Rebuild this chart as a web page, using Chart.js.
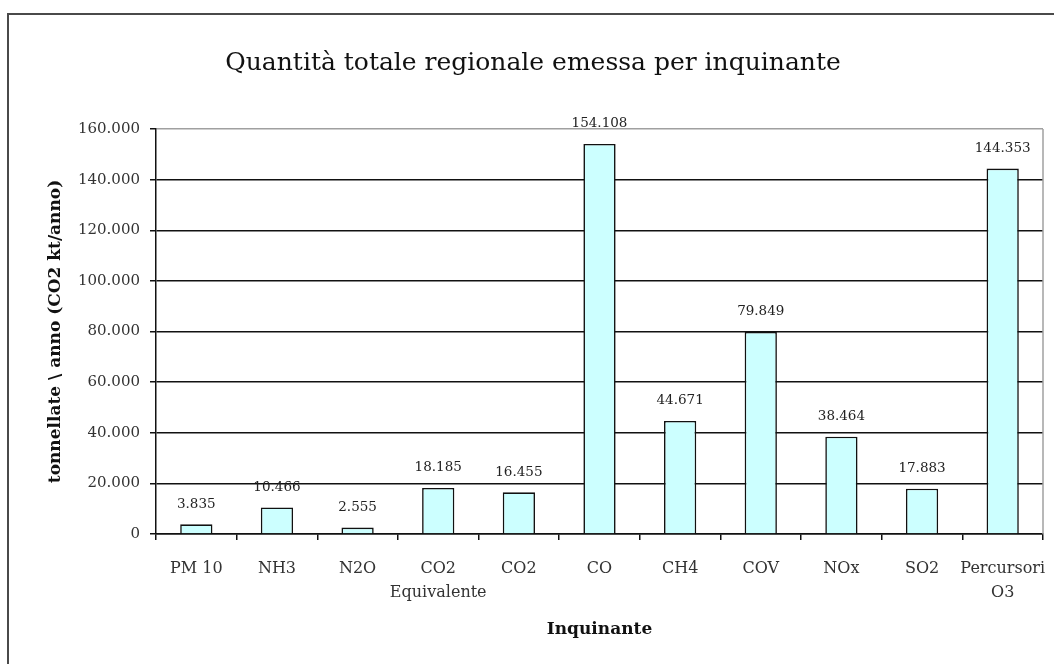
<!DOCTYPE html>
<html lang="it">
<head>
<meta charset="utf-8">
<title>Quantità totale regionale emessa per inquinante</title>
<script src="https://cdn.jsdelivr.net/npm/chart.js@4.4.1/dist/chart.umd.min.js"></script>
<style>
  html, body { margin: 0; padding: 0; background: #fff; }
  #wrap { position: relative; width: 1054px; height: 664px; overflow: hidden; }
  #frame {
    position: absolute; left: 7px; top: 13px; width: 1100px; height: 700px;
    border: 2px solid #4a4a4a; box-sizing: border-box;
  }
  #chart { position: absolute; left: 0; top: 0; }
</style>
</head>
<body>
<div id="wrap">
  <div id="frame"></div>
  <canvas id="chart" width="1054" height="664"></canvas>
</div>
<script>
// Inquinanti (etichette dell'asse orizzontale)
const categories = [
  'PM 10', 'NH3', 'N2O', ['CO2', 'Equivalente'], 'CO2', 'CO',
  'CH4', 'COV', 'NOx', 'SO2', ['Percursori', 'O3']
];
// Quantità emesse, tonnellate / anno (CO2 kt/anno)
const emissions = [3835, 10466, 2555, 18185, 16455, 154108, 44671, 79849, 38464, 17883, 144353];
// Tacche dell'asse verticale
const yTicks = [0, 20000, 40000, 60000, 80000, 100000, 120000, 140000, 160000];

const SERIF = '"DejaVu Serif", "Liberation Serif", serif';

// Separatore delle migliaia all'italiana
function fmt(v) {
  return String(Math.round(v)).replace(/\B(?=(\d{3})+(?!\d))/g, '.');
}

// Valori sopra le barre
const valueLabels = {
  id: 'valueLabels',
  afterDatasetsDraw(chart) {
    const ctx = chart.ctx;
    const meta = chart.getDatasetMeta(0);
    ctx.save();
    ctx.font = '13.5px ' + SERIF;
    ctx.fillStyle = '#222';
    ctx.textAlign = 'center';
    ctx.textBaseline = 'middle';
    meta.data.forEach((bar, i) => {
      ctx.fillText(fmt(chart.data.datasets[0].data[i]), bar.x, bar.y - 20);
    });
    ctx.restore();
  }
};

// Bordo grigio destro dell'area del grafico
const plotFrame = {
  id: 'plotFrame',
  beforeDatasetsDraw(chart) {
    const { ctx, chartArea: a } = chart;
    ctx.save();
    ctx.strokeStyle = '#a0a0a0';
    ctx.lineWidth = 1.5;
    ctx.beginPath();
    ctx.moveTo(a.right, a.top);
    ctx.lineTo(a.right, a.bottom);
    ctx.stroke();
    ctx.restore();
  }
};

new Chart(document.getElementById('chart'), {
  type: 'bar',
  data: {
    labels: categories,
    datasets: [{
      data: emissions,
      backgroundColor: '#ccffff',
      borderColor: '#111',
      borderWidth: 1.6,
      categoryPercentage: 1.0,
      barPercentage: 0.4
    }]
  },
  options: {
    responsive: false,
    animation: false,
    layout: { padding: { left: 23, right: 11, top: 0, bottom: 0 } },
    plugins: {
      legend: { display: false },
      tooltip: { enabled: false },
      title: {
        display: true,
        text: 'Quantità totale regionale emessa per inquinante',
        color: '#111',
        font: { family: SERIF, size: 25, weight: 'normal', lineHeight: 1.2 },
        padding: { top: 48, bottom: 51 }
      }
    },
    scales: {
      x: {
        offset: true,
        grid: {
          offset: true,
          drawOnChartArea: false,
          drawTicks: true,
          tickLength: 6,
          tickColor: '#111',
          lineWidth: 1.5
        },
        border: { color: '#111', width: 1.5 },
        ticks: {
          color: '#333',
          padding: 17,
          maxRotation: 0,
          autoSkip: false,
          font: { family: SERIF, size: 16, lineHeight: 1.5 }
        },
        title: {
          display: true,
          text: 'Inquinante',
          color: '#111',
          font: { family: SERIF, size: 17, weight: 'bold', lineHeight: 1.2 },
          padding: { top: 0, bottom: 24 }
        },
        afterFit(scale) {
          scale.height = 130;
          scale.paddingLeft = 0;
          scale.paddingRight = 0;
        }
      },
      y: {
        min: 0,
        max: 160000,
        afterBuildTicks(scale) {
          scale.ticks = yTicks.map(v => ({ value: v }));
        },
        grid: {
          color: c => (c.tick && c.tick.value === 160000) ? '#a0a0a0' : '#111',
          lineWidth: 1.5,
          tickColor: '#111',
          tickLength: 6
        },
        border: { color: '#111', width: 1.5 },
        ticks: {
          color: '#333',
          padding: 10,
          font: { family: SERIF, size: 15 },
          callback: v => fmt(v)
        },
        title: {
          display: true,
          text: 'tonnellate \\ anno (CO2 kt/anno)',
          color: '#111',
          font: { family: SERIF, size: 17, weight: 'bold', lineHeight: 1.2 },
          padding: { top: 22, bottom: 0 }
        },
        afterFit(scale) {
          scale.width = 133;
          scale.paddingTop = 0;
          scale.paddingBottom = 0;
        }
      }
    }
  },
  plugins: [plotFrame, valueLabels]
});
</script>
</body>
</html>
